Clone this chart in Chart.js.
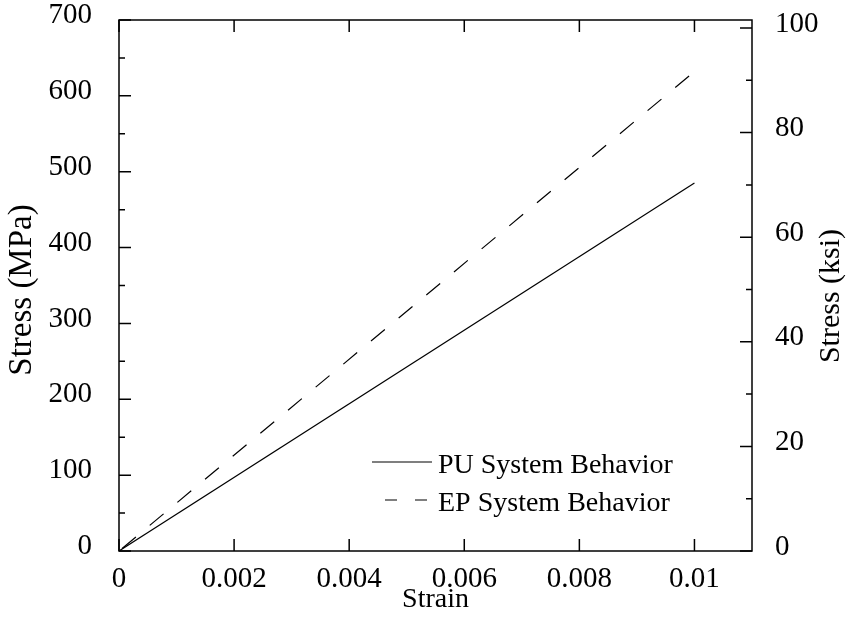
<!DOCTYPE html>
<html>
<head>
<meta charset="utf-8">
<script src="https://cdn.jsdelivr.net/npm/chart.js@4.4.1/dist/chart.umd.min.js"></script>
<style>
  html, body { margin: 0; padding: 0; background: #fff; }
  #wrap { width: 852px; height: 621px; position: relative; }
</style>
</head>
<body>
<div id="wrap"><canvas id="stressChart"></canvas></div>
<script>
const strain = [0, 0.01];
const puStress = [0, 485];
const epStress = [0, 632];
const seriesNames = ['PU System Behavior', 'EP System Behavior'];
const axisTitles = { x: 'Strain', y: 'Stress (MPa)', yr: 'Stress (ksi)' };
const MPA_PER_KSI = 6.894757;
const SERIF = '"Liberation Serif", "Times New Roman", serif';

function toPoints(xs, ys) {
    return xs.map((x, i) => ({ x: x, y: ys[i] }));
}

// fixed scale boxes, no label overflow padding
function fixBox(size, key) {
    return s => {
        s[key] = size;
        s.paddingTop = 0; s.paddingBottom = 0; s.paddingLeft = 0; s.paddingRight = 0;
    };
}

// inward ticks, box, legend and axis titles
const framePlugin = {
    id: 'frame',
    afterDraw(chart) {
        const ctx = chart.ctx;
        const a = chart.chartArea;
        const sx = chart.scales.x, sy = chart.scales.y, sr = chart.scales.yr;
        ctx.save();
        ctx.strokeStyle = '#000';
        ctx.lineWidth = 1.5;
        ctx.strokeRect(a.left, a.top, a.right - a.left, a.bottom - a.top);

        ctx.beginPath();
        sx.ticks.forEach(t => {
            const px = sx.getPixelForValue(t.value);
            ctx.moveTo(px, a.bottom); ctx.lineTo(px, a.bottom - 12);
            ctx.moveTo(px, a.top); ctx.lineTo(px, a.top + 12);
        });
        for (let v = 0; v <= 700; v += 50) {
            const py = sy.getPixelForValue(v);
            ctx.moveTo(a.left, py); ctx.lineTo(a.left + (v % 100 === 0 ? 12 : 6), py);
        }
        for (let v = 0; v <= 100; v += 10) {
            const py = sr.getPixelForValue(v);
            ctx.moveTo(a.right, py); ctx.lineTo(a.right - (v % 20 === 0 ? 12 : 6), py);
        }
        ctx.stroke();

        // legend
        ctx.font = '28px ' + SERIF;
        ctx.fillStyle = '#000';
        ctx.textBaseline = 'alphabetic';
        ctx.textAlign = 'left';
        chart.data.datasets.forEach((ds, i) => {
            const ly = 462 + i * 38;
            const dashed = ds.borderDash && ds.borderDash.length;
            ctx.lineWidth = 1.2;
            ctx.setLineDash(dashed ? [12, 18] : []);
            ctx.beginPath();
            ctx.moveTo(dashed ? 385 : 372, ly);
            ctx.lineTo(432, ly);
            ctx.stroke();
            ctx.setLineDash([]);
            ctx.fillText(ds.label, 438, ly + 11);
        });

        // axis titles
        ctx.textAlign = 'center';
        ctx.textBaseline = 'middle';
        ctx.font = '28px ' + SERIF;
        ctx.fillText(axisTitles.x, (a.left + a.right) / 2, 600);
        ctx.save();
        ctx.translate(22, 290);
        ctx.rotate(-Math.PI / 2);
        ctx.font = '33px ' + SERIF;
        ctx.fillText(axisTitles.y, 0, 0);
        ctx.restore();
        ctx.save();
        ctx.translate(831, 296);
        ctx.rotate(-Math.PI / 2);
        ctx.font = '30px ' + SERIF;
        ctx.fillText(axisTitles.yr, 0, 0);
        ctx.restore();
        ctx.restore();
    }
};

const tickFont = { family: SERIF, size: 29 };

new Chart(document.getElementById('stressChart'), {
    type: 'scatter',
    data: {
        datasets: [
            { label: seriesNames[0], data: toPoints(strain, puStress), showLine: true, borderColor: '#000', borderWidth: 1.2, pointRadius: 0, yAxisID: 'y' },
            { label: seriesNames[1], data: toPoints(strain, epStress), showLine: true, borderColor: '#000', borderWidth: 1.2, borderDash: [18, 18], borderDashOffset: -4, pointRadius: 0, yAxisID: 'y' }
        ]
    },
    options: {
        responsive: true,
        maintainAspectRatio: false,
        animation: false,
        layout: { autoPadding: false, padding: { top: 20, right: 0, left: 0, bottom: 0 } },
        plugins: { legend: { display: false }, tooltip: { enabled: false } },
        scales: {
            x: {
                type: 'linear', position: 'bottom', min: 0, max: 0.011,
                grid: { display: false }, border: { display: false },
                ticks: { stepSize: 0.002, includeBounds: false, color: '#000', font: tickFont, padding: 3,
                    callback: v => String(+v.toFixed(3)) },
                afterFit: fixBox(70, 'height')
            },
            y: {
                type: 'linear', position: 'left', min: 0, max: 700,
                grid: { display: false }, border: { display: false },
                ticks: { stepSize: 100, color: '#000', font: tickFont, padding: 19, labelOffset: -4.5 },
                afterFit: fixBox(119, 'width')
            },
            yr: {
                type: 'linear', position: 'right', min: 0, max: 700 / MPA_PER_KSI,
                grid: { display: false }, border: { display: false },
                ticks: { stepSize: 20, includeBounds: false, color: '#000', font: tickFont, padding: 15, labelOffset: -4 },
                afterFit: fixBox(100, 'width')
            }
        }
    },
    plugins: [framePlugin]
});
</script>
</body>
</html>
